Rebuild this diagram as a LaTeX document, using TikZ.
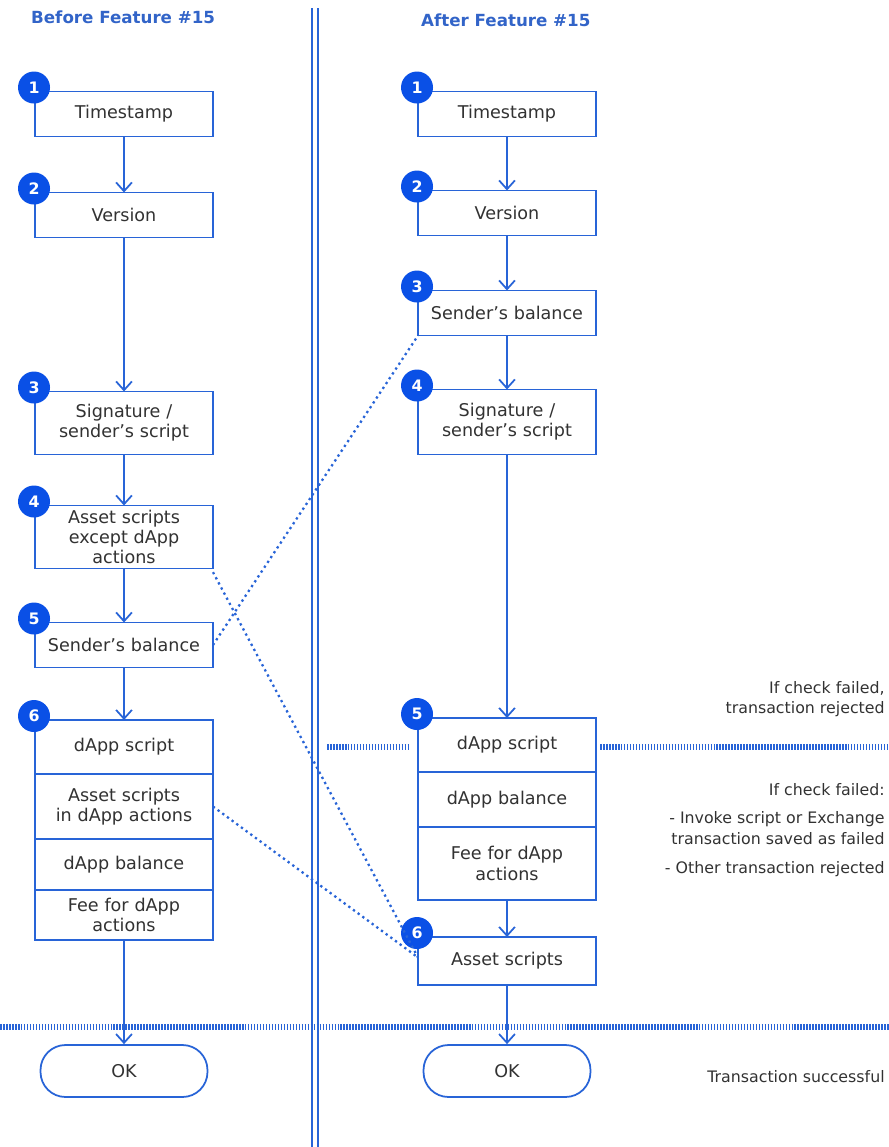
\documentclass[tikz,border=0pt]{standalone}
\usepackage{fontspec}
\setmainfont{DejaVu Sans}
\usepackage{xcolor}
\usepackage{tikz}
\usetikzlibrary{arrows.meta, positioning}
\definecolor{myblue}{RGB}{40,100,215}
\definecolor{mybadge}{RGB}{10,80,230}
\definecolor{mytitle}{RGB}{50,100,200}
\definecolor{mytext}{RGB}{50,50,50}
\tikzset{
  chk/.style={rectangle, draw=myblue, fill=white, text=mytext,
    minimum width=3.56cm, text width=3.3cm, align=center, minimum height=0.9cm,
    font=\fontsize{10}{11.5}\selectfont, line width=1pt, outer sep=0pt},
  okbox/.style={rectangle, draw=myblue, text=mytext, minimum width=3.34cm,
    minimum height=1.04cm, rounded corners=0.5cm, font=\fontsize{10}{12}\selectfont,
    line width=1pt},
  badge/.style={circle, fill=mybadge, text=white, inner sep=0pt,
    minimum size=0.64cm, font=\bfseries\fontsize{9}{10}\selectfont},
  title/.style={text=mytitle, font=\bfseries\fontsize{9.5}{11}\selectfont, anchor=west},
  note/.style={text=mytext, align=right, anchor=east, inner sep=0pt,
    font=\fontsize{9}{11.5}\selectfont},
  arrow/.style={-{Straight Barb[length=5pt, width=9pt]}, line width=1pt, color=myblue},
  link/.style={dotted, line width=1.3pt, color=myblue},
  barrier/.style={line width=3pt, dash pattern=on 0.9pt off 0.8pt, color=myblue},
  divider/.style={line width=1pt, draw=myblue, double=white, double distance=2.2pt}
}
\begin{document}
\begin{tikzpicture}[x=0.02cm, y=-0.02cm]
  \useasboundingbox (0,0) rectangle (889,1147);

  % Columns
  \draw[divider] (315,8) -- (315,1147);
  \node[title] (before) at (25,17) {Before Feature \#15};
  \node[title] (after) at (415,20) {After Feature \#15};

  % Before
  \node[chk] (ts1) at (124,114) {Timestamp};
  \node[chk] (ver1) at (124,215) {Version};
  \node[chk, minimum height=1.26cm] (sig1) at (124,423) {Signature /\\sender’s script};
  \node[chk, minimum height=1.26cm, inner ysep=1pt] (as1) at (124,537) {Asset scripts\\except dApp\\actions};
  \node[chk] (bal1) at (124,645) {Sender’s balance};
  \node[chk, minimum height=1.08cm] (ds1) at (124,747) {dApp script};
  \node[chk, minimum height=1.3cm, below=0pt of ds1] (asd1) {Asset scripts\\in dApp actions};
  \node[chk, minimum height=1.02cm, below=0pt of asd1] (db1) {dApp balance};
  \node[chk, minimum height=1.0cm, inner ysep=1pt, below=0pt of db1] (fee1) {Fee for dApp\\actions};
  \node[okbox] (ok1) at (124,1071) {OK};

  % After
  \node[chk] (ts2) at (507,114) {Timestamp};
  \node[chk] (ver2) at (507,213) {Version};
  \node[chk] (bal2) at (507,313) {Sender’s balance};
  \node[chk, minimum height=1.3cm] (sig2) at (507,422) {Signature /\\sender’s script};
  \node[chk, minimum height=1.08cm] (ds2) at (507,745) {dApp script};
  \node[chk, minimum height=1.1cm, below=0pt of ds2] (db2) {dApp balance};
  \node[chk, minimum height=1.46cm, below=0pt of db2] (fee2) {Fee for dApp\\actions};
  \node[chk, minimum height=0.96cm] (as2) at (507,961) {Asset scripts};
  \node[okbox] (ok2) at (507,1071) {OK};

  % Badges
  \foreach \n/\b in {ts1/1, ver1/2, sig1/3, as1/4, bal1/5, ds1/6,
                     ts2/1, ver2/2, bal2/3, sig2/4, ds2/5, as2/6}
    \node[badge] (b-\n) at ([shift={(-1,-4)}]\n.north west) {\b};

  % Flow
  \draw[arrow] (ts1) -- (ver1);
  \draw[arrow] (ver1) -- (sig1);
  \draw[arrow] (sig1) -- (as1);
  \draw[arrow] (as1) -- (bal1);
  \draw[arrow] (bal1) -- (ds1);
  \draw[arrow] (fee1) -- (ok1);
  \draw[arrow] (ts2) -- (ver2);
  \draw[arrow] (ver2) -- (bal2);
  \draw[arrow] (bal2) -- (sig2);
  \draw[arrow] (sig2) -- (ds2);
  \draw[arrow] (fee2) -- (as2);
  \draw[arrow] (as2) -- (ok2);

  % Moved checks
  \draw[link] (bal1.east) -- (bal2.south west);
  \draw[link] ([yshift=-20]as1.east) -- ([yshift=2]as2.west);
  \draw[link] (asd1.east) -- ([yshift=2]as2.west);

  % Barriers
  \draw[barrier] (327,747) -- (409,747);
  \draw[barrier] (600,747) -- (889,747);
  \draw[barrier] (0,1027) -- (889,1027);

  % Notes
  \node[note] (rej) at (885,699) {If check failed,\\transaction rejected};
  \node[note] (fail) at (885,790) {If check failed:};
  \node[note] (inv) at (885,828) {- Invoke script or Exchange\\transaction saved as failed};
  \node[note] (oth) at (885,869) {- Other transaction rejected};
  \node[note] (succ) at (885,1077) {Transaction successful};
\end{tikzpicture}
\end{document}
